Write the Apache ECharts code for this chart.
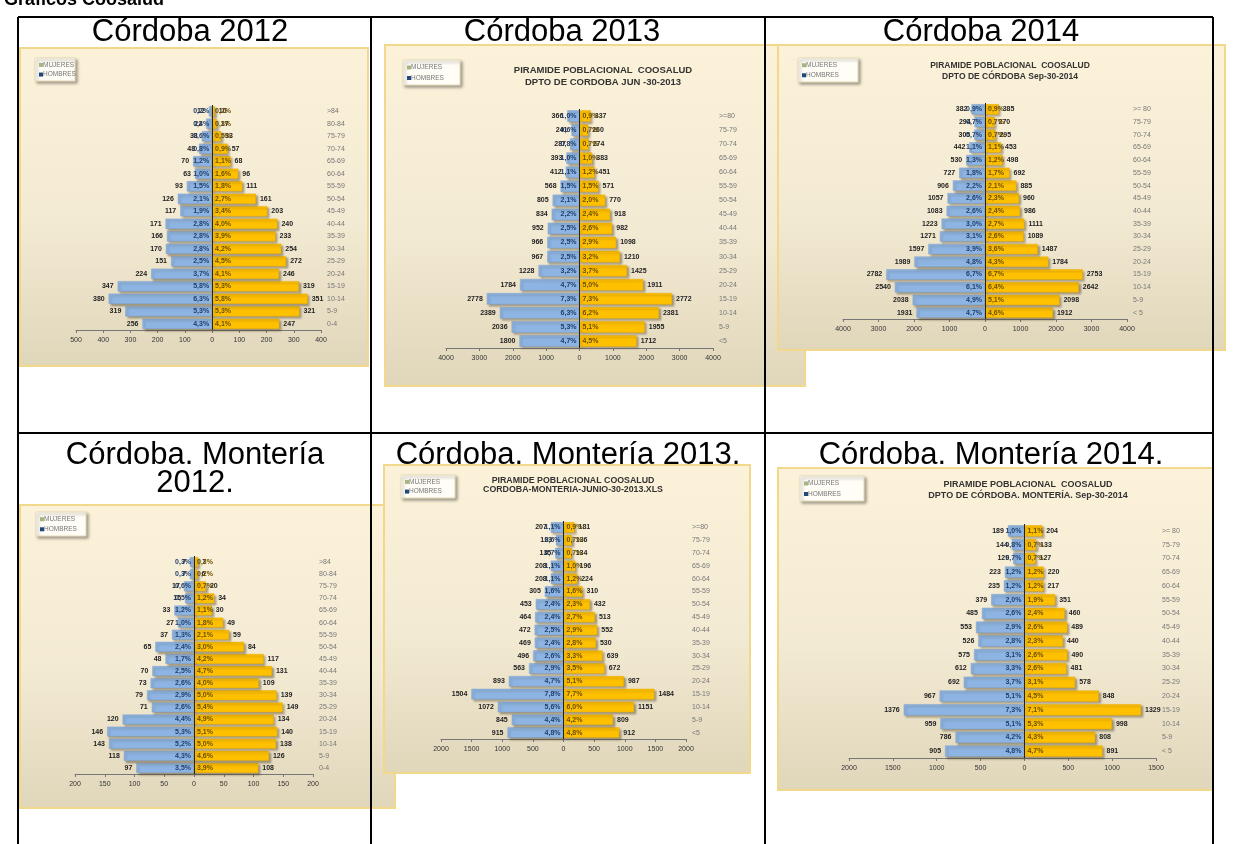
<!DOCTYPE html>
<html><head><meta charset="utf-8">
<script src="https://cdn.jsdelivr.net/npm/echarts/dist/echarts.min.js"></script>
<style>html,body{margin:0;padding:0;background:#fff}#c{width:1254px;height:844px}</style>
</head><body><div id="c"></div>
<script>
// ---------- DATA ----------
const cats18 = ['0-4','5-9','10-14','15-19','20-24','25-29','30-34','35-39','40-44','45-49','50-54','55-59','60-64','65-69','70-74','75-79','80-84','>84'];
const cats17a = ['<5','5-9','10-14','15-19','20-24','25-29','30-34','35-39','40-44','45-49','50-54','55-59','60-64','65-69','70-74','75-79','>=80'];
const cats17b = ['< 5','5-9','10-14','15-19','20-24','25-29','30-34','35-39','40-44','45-49','50-54','55-59','60-64','65-69','70-74','75-79','>= 80'];

// Córdoba 2012
const c1Left     = [256,319,380,347,224,151,170,166,171,117,126,93,63,70,48,38,22,12];
const c1LeftPct  = [4.3,5.3,6.3,5.8,3.7,2.5,2.8,2.8,2.8,1.9,2.1,1.5,1.0,1.2,0.8,0.6,0.4,0.2];
const c1Right    = [247,321,351,319,246,272,254,233,240,203,161,111,96,68,57,33,17,10];
const c1RightPct = [4.1,5.3,5.8,5.3,4.1,4.5,4.2,3.9,4.0,3.4,2.7,1.8,1.6,1.1,0.9,0.5,0.3,0.2];
// Córdoba 2013
const c2Left     = [1800,2036,2389,2778,1784,1228,967,966,952,834,805,568,412,393,287,241,366];
const c2LeftPct  = [4.7,5.3,6.3,7.3,4.7,3.2,2.5,2.5,2.5,2.2,2.1,1.5,1.1,1.0,0.8,0.6,1.0];
const c2Right    = [1712,1955,2381,2772,1911,1425,1210,1098,982,918,770,571,451,383,274,260,337];
const c2RightPct = [4.5,5.1,6.2,7.3,5.0,3.7,3.2,2.9,2.6,2.4,2.0,1.5,1.2,1.0,0.7,0.7,0.9];
// Córdoba 2014
const c3Left     = [1931,2038,2540,2782,1989,1597,1271,1223,1083,1057,906,727,530,442,305,294,382];
const c3LeftPct  = [4.7,4.9,6.1,6.7,4.8,3.9,3.1,3.0,2.6,2.6,2.2,1.8,1.3,1.1,0.7,0.7,0.9];
const c3Right    = [1912,2098,2642,2753,1784,1487,1089,1111,986,960,885,692,498,453,295,270,385];
const c3RightPct = [4.6,5.1,6.4,6.7,4.3,3.6,2.6,2.7,2.4,2.3,2.1,1.7,1.2,1.1,0.7,0.7,0.9];
// Córdoba. Montería 2012
const c4Left     = [97,118,143,146,120,71,79,73,70,48,65,37,27,33,15,17,7,7];
const c4LeftPct  = [3.5,4.3,5.2,5.3,4.4,2.6,2.9,2.6,2.5,1.7,2.4,1.3,1.0,1.2,0.5,0.6,0.3,0.3];
const c4Right    = [108,126,138,140,134,149,139,109,131,117,84,59,49,30,34,20,6,7];
const c4RightPct = [3.9,4.6,5.0,5.1,4.9,5.4,5.0,4.0,4.7,4.2,3.0,2.1,1.8,1.1,1.2,0.7,0.2,0.3];
// Córdoba. Montería 2013
const c5Left     = [915,845,1072,1504,893,563,496,469,472,464,453,305,208,208,135,123,207];
const c5LeftPct  = [4.8,4.4,5.6,7.8,4.7,2.9,2.6,2.4,2.5,2.4,2.4,1.6,1.1,1.1,0.7,0.6,1.1];
const c5Right    = [912,809,1151,1484,987,672,639,530,552,513,432,310,224,196,134,136,181];
const c5RightPct = [4.8,4.2,6.0,7.7,5.1,3.5,3.3,2.8,2.9,2.7,2.3,1.6,1.2,1.0,0.7,0.7,0.9];
// Córdoba. Montería 2014
const c6Left     = [905,786,959,1376,967,692,612,575,526,553,485,379,235,223,129,144,189];
const c6LeftPct  = [4.8,4.2,5.1,7.3,5.1,3.7,3.3,3.1,2.8,2.9,2.6,2.0,1.2,1.2,0.7,0.8,1.0];
const c6Right    = [891,808,998,1329,848,578,481,490,440,489,460,351,217,220,127,133,204];
const c6RightPct = [4.7,4.3,5.3,7.1,4.5,3.1,2.6,2.6,2.3,2.6,2.4,1.9,1.2,1.2,0.7,0.7,1.1];

const headers = [
  {text:'Córdoba 2012', x:190, y:32},
  {text:'Córdoba 2013', x:562, y:32},
  {text:'Córdoba 2014', x:981, y:32},
  {text:'Córdoba. Montería', x:195, y:455},
  {text:'2012.', x:195, y:483},
  {text:'Córdoba. Montería 2013.', x:568, y:455},
  {text:'Córdoba. Montería 2014.', x:991, y:455}
];
const titles2 = ['PIRAMIDE POBLACIONAL  COOSALUD','DPTO DE CORDOBA JUN -30-2013'];
const titles3 = ['PIRAMIDE POBLACIONAL  COOSALUD','DPTO DE CÓRDOBA Sep-30-2014'];
const titles5 = ['PIRAMIDE POBLACIONAL COOSALUD','CORDOBA-MONTERIA-JUNIO-30-2013.XLS'];
const titles6 = ['PIRAMIDE POBLACIONAL  COOSALUD','DPTO DE CÓRDOBA. MONTERÍA. Sep-30-2014'];
const legendNames = ['MUJERES','HOMBRES'];

// ---------- LAYOUT ----------
const panels = [
  {cats:cats18, L:c1Left, LP:c1LeftPct, R:c1Right, RP:c1RightPct, bg:[20,48,348,318], grid:[76,105,245,225], ax:[-500,400,100], leg:[35,58,40,23], title:null, tfs:0, tx:0, ty:0, tg:0},
  {cats:cats17a, L:c2Left, LP:c2LeftPct, R:c2Right, RP:c2RightPct, bg:[385,45,420,341], grid:[446,109,267,239], ax:[-4000,4000,1000], leg:[403,60,57,25], title:titles2, tfs:9.5, tx:603, ty:70, tg:12},
  {cats:cats17b, L:c3Left, LP:c3LeftPct, R:c3Right, RP:c3RightPct, bg:[778,45,447,305], grid:[843,103,284,216], ax:[-4000,4000,1000], leg:[798,58,60,24], title:titles3, tfs:8.5, tx:1010, ty:66, tg:11},
  {cats:cats18, L:c4Left, LP:c4LeftPct, R:c4Right, RP:c4RightPct, bg:[20,505,375,303], grid:[75,556,238,218], ax:[-200,200,50], leg:[36,512,50,24], title:null, tfs:0, tx:0, ty:0, tg:0},
  {cats:cats17a, L:c5Left, LP:c5LeftPct, R:c5Right, RP:c5RightPct, bg:[384,465,366,308], grid:[441,521,245,218], ax:[-2000,2000,500], leg:[401,475,54,23], title:titles5, tfs:8.8, tx:573, ty:481, tg:8.5},
  {cats:cats17b, L:c6Left, LP:c6LeftPct, R:c6Right, RP:c6RightPct, bg:[778,468,435,322], grid:[849,524,307,234], ax:[-2000,1500,500], leg:[800,476,64,25], title:titles6, tfs:9, tx:1028, ty:485, tg:11}
];

const FONT = '"Liberation Sans", Arial, sans-serif';
const pct = v => v.toFixed(1).replace('.', ',') + '%';

const grids=[], xAxes=[], yAxes=[], series=[], graphics=[];

panels.forEach(p => {
  const [bx,by,bw,bh] = p.bg;
  graphics.push({type:'rect', z:-5, shape:{x:bx,y:by,width:bw,height:bh},
    style:{fill:new echarts.graphic.LinearGradient(0,0,0,1,[{offset:0,color:'#FCF2DA'},{offset:0.55,color:'#F3EAD3'},{offset:1,color:'#E0D6BA'}]),
      stroke:'#F2D88A', lineWidth:2}});
});

panels.forEach((p, i) => {
  grids.push({left:p.grid[0], top:p.grid[1], width:p.grid[2], height:p.grid[3]});
  xAxes.push({gridIndex:i, type:'value', min:p.ax[0], max:p.ax[1], interval:p.ax[2],
    axisLine:{show:true, onZero:false, lineStyle:{color:'#777', width:1}},
    axisTick:{show:true, length:3, lineStyle:{color:'#777'}},
    splitLine:{show:false},
    axisLabel:{fontSize:7, color:'#333', margin:7, formatter:v=>Math.abs(v), fontFamily:FONT}});
  yAxes.push({gridIndex:i, type:'category', data:p.cats, position:'right',
    axisLine:{show:false}, axisTick:{show:false},
    axisLabel:{fontSize:7, color:'#777', margin:6, fontFamily:FONT}});
  const common = {type:'bar', xAxisIndex:i, yAxisIndex:i, barGap:'-100%', barCategoryGap:'18%', animation:false};
  const shadow = {shadowColor:'rgba(70,60,30,0.45)', shadowBlur:2, shadowOffsetX:2, shadowOffsetY:2};
  series.push(Object.assign({}, common, {name:'HOMBRES', data:p.L.map(v=>-v), z:2,
    itemStyle:Object.assign({color:'#8DB4E2', borderColor:'#7EA3CF', borderWidth:0.5}, shadow),
    label:{show:true, position:'left', distance:4, fontSize:7, fontWeight:'bold', color:'#222', fontFamily:FONT, formatter:q=>Math.abs(q.value)},
    markLine:{silent:true, symbol:'none', animation:false, label:{show:false}, lineStyle:{color:'#222', width:1, type:'solid'}, data:[{xAxis:0}]}}));
  series.push(Object.assign({}, common, {name:'MUJERES', data:p.R.slice(), z:2,
    itemStyle:Object.assign({color:'#FFC000', borderColor:'#E6AC00', borderWidth:0.5}, shadow),
    label:{show:true, position:'right', distance:4, fontSize:7, fontWeight:'bold', color:'#222', fontFamily:FONT}}));
  series.push(Object.assign({}, common, {name:'pctL', data:p.L.map(v=>-v), z:4, silent:true,
    itemStyle:{color:'rgba(0,0,0,0)'},
    label:{show:true, position:'insideRight', distance:3, fontSize:7, fontWeight:'bold', color:'#1F3F6E', fontFamily:FONT, formatter:q=>pct(p.LP[q.dataIndex])}}));
  series.push(Object.assign({}, common, {name:'pctR', data:p.R.slice(), z:4, silent:true,
    itemStyle:{color:'rgba(0,0,0,0)'},
    label:{show:true, position:'insideLeft', distance:3, fontSize:7, fontWeight:'bold', color:'#6B4F00', fontFamily:FONT, formatter:q=>pct(p.RP[q.dataIndex])}}));

  // legend box
  const [lx,ly,lw,lh] = p.leg;
  graphics.push({type:'rect', z:10, shape:{x:lx,y:ly,width:lw,height:lh},
    style:{fill:'#FFFDF6', stroke:'#E8DDB8', lineWidth:1, shadowBlur:3, shadowColor:'rgba(0,0,0,0.35)', shadowOffsetX:2, shadowOffsetY:2}});
  const iconCols = ['#A8B47E','#1F497D'];
  legendNames.forEach((nm, k) => {
    const yy = ly + lh*(k===0?0.3:0.72);
    graphics.push({type:'rect', z:11, shape:{x:lx+4, y:yy-2, width:4, height:4}, style:{fill:iconCols[k]}});
    graphics.push({type:'text', z:11, style:{text:nm, x:lx+8, y:yy, fill:'#777', fontSize:6.5, fontFamily:FONT, textVerticalAlign:'middle', textAlign:'left'}});
  });
  if (p.title) {
    p.title.forEach((t, k) => {
      graphics.push({type:'text', z:11, style:{text:t, x:p.tx, y:p.ty + k*p.tg, fill:'#333', fontSize:p.tfs, fontWeight:'bold', fontFamily:FONT, textAlign:'center', textVerticalAlign:'middle'}});
    });
  }
});

// table lines
[[18,17,1213,17],[18,433,1213,433],[18,17,18,844],[371,17,371,844],[765,17,765,844],[1213,17,1213,844]].forEach(l => {
  graphics.push({type:'line', z:100, shape:{x1:l[0],y1:l[1],x2:l[2],y2:l[3]}, style:{stroke:'#000', lineWidth:2}});
});
headers.forEach(h => {
  graphics.push({type:'text', z:50, style:{text:h.text, x:h.x, y:h.y, fill:'#000', fontSize:31, fontFamily:FONT, textAlign:'center', textVerticalAlign:'middle'}});
});
// page caption, cut at the top edge as in the source page
graphics.push({type:'text', z:50, style:{text:'Gráficos Coosalud', x:4, y:9, fill:'#000', fontSize:18, fontWeight:'bold', fontFamily:FONT, textAlign:'left', textVerticalAlign:'bottom'}});

const chart = echarts.init(document.getElementById('c'), null, {renderer:'canvas'});
chart.setOption({
  animation:false,
  backgroundColor:'#ffffff',
  textStyle:{fontFamily:FONT},
  grid:grids, xAxis:xAxes, yAxis:yAxes, series:series, graphic:graphics
});
</script></body></html>
